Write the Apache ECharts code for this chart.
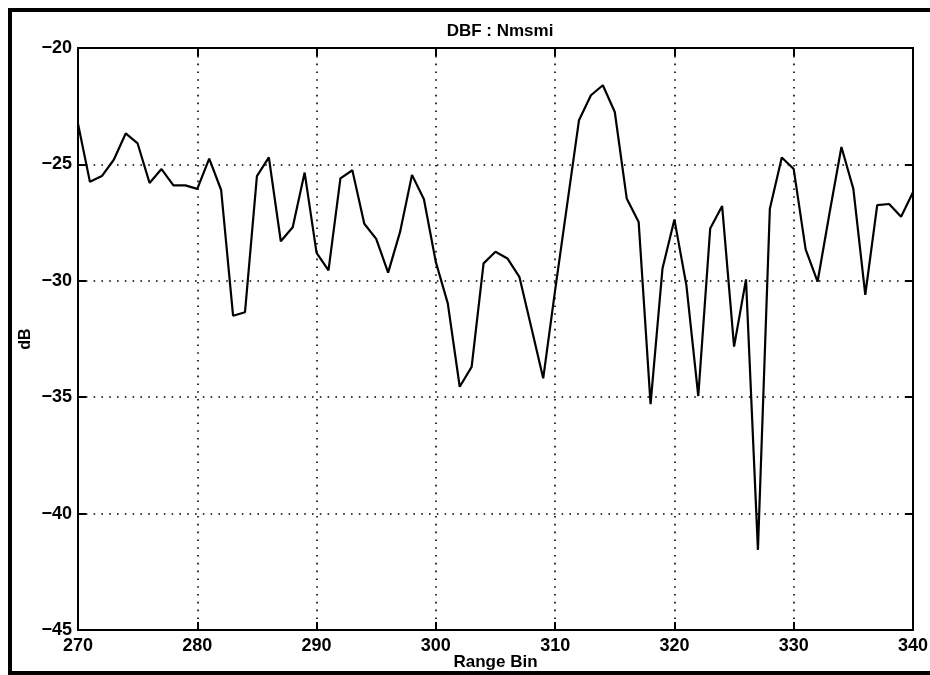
<!DOCTYPE html>
<html>
<head>
<meta charset="utf-8">
<script src="https://cdn.jsdelivr.net/npm/echarts@6/dist/echarts.min.js"></script>
<style>
  html, body { margin: 0; padding: 0; background: #fff; }
  #chart { width: 930px; height: 675px; }
</style>
</head>
<body>
<div id="chart"></div>
<script>
// Range bins 270..340, one dB value per bin
const binStart = 270;
const dbValues = [
  -23.25, -25.75, -25.5, -24.8, -23.67, -24.1, -25.8, -25.2, -25.9, -25.9,
  -26.05, -24.75, -26.1, -31.5, -31.35, -25.5, -24.7, -28.3, -27.7, -25.35,
  -28.8, -29.55, -25.6, -25.25, -27.55, -28.2, -29.65, -27.9, -25.45, -26.5,
  -29.2, -30.97, -34.55, -33.7, -29.25, -28.75, -29.04, -29.83, -32.0, -34.19,
  -30.4, -26.75, -23.1, -22.03, -21.6, -22.75, -26.46, -27.47, -35.3, -29.47,
  -27.37, -30.18, -34.95, -27.75, -26.79, -32.83, -29.94, -41.56, -26.9, -24.7,
  -25.2, -28.65, -30.04, -27.1, -24.25, -26.05, -30.6, -26.75, -26.7, -27.25,
  -26.2
];
const xTicks = [270, 280, 290, 300, 310, 320, 330, 340];
const yTicks = [-45, -40, -35, -30, -25, -20];

const points = dbValues.map((v, i) => [binStart + i, v]);

const FONT = '"Liberation Sans", Arial, Helvetica, sans-serif';
const minus = v => String(v).replace('-', '\u2212');

const xMin = xTicks[0], xMax = xTicks[xTicks.length - 1];
const yMin = yTicks[0], yMax = yTicks[yTicks.length - 1];
const xStep = xTicks[1] - xTicks[0], yStep = yTicks[1] - yTicks[0];

const dotted = { color: '#000', width: 1.6, type: [1.6, 6.2] };
const tickIn = { show: true, inside: true, length: 8, lineStyle: { color: '#000', width: 2 } };

const chart = echarts.init(document.getElementById('chart'));
chart.setOption({
  animation: false,
  backgroundColor: '#fff',
  title: {
    text: 'DBF : Nmsmi',
    left: 495,
    top: 18,
    textAlign: 'center',
    textStyle: { fontFamily: FONT, fontSize: 17, fontWeight: 'bold', color: '#000' }
  },
  grid: {
    left: 78, right: 17, top: 48, bottom: 45,
    outerBoundsMode: 'none',
    show: true, borderColor: '#000', borderWidth: 2
  },
  xAxis: [{
    type: 'value', min: xMin, max: xMax, interval: xStep, position: 'bottom',
    name: 'Range Bin', nameLocation: 'middle', nameGap: 24, nameMoveOverlap: false,
    nameTextStyle: { fontFamily: FONT, fontSize: 17, fontWeight: 'bold', color: '#000' },
    axisLine: { show: true, lineStyle: { color: '#000', width: 2 } },
    axisTick: tickIn,
    axisLabel: { fontFamily: FONT, fontSize: 18, fontWeight: 'bold', color: '#000', margin: 7 },
    splitLine: { show: true, lineStyle: dotted }
  }, {
    type: 'value', min: xMin, max: xMax, interval: xStep, position: 'top',
    axisLine: { show: true, lineStyle: { color: '#000', width: 2 } },
    axisTick: tickIn, axisLabel: { show: false }, splitLine: { show: false }
  }],
  yAxis: [{
    type: 'value', min: yMin, max: yMax, interval: yStep, position: 'left',
    name: 'dB', nameLocation: 'middle', nameRotate: 90, nameGap: 44, nameMoveOverlap: false,
    nameTextStyle: { fontFamily: FONT, fontSize: 16, fontWeight: 'bold', color: '#000' },
    axisLine: { show: true, lineStyle: { color: '#000', width: 2 } },
    axisTick: tickIn,
    axisLabel: { fontFamily: FONT, fontSize: 18, fontWeight: 'bold', color: '#000', margin: 6, formatter: minus },
    splitLine: { show: true, lineStyle: dotted }
  }, {
    type: 'value', min: yMin, max: yMax, interval: yStep, position: 'right',
    axisLine: { show: true, lineStyle: { color: '#000', width: 2 } },
    axisTick: tickIn, axisLabel: { show: false }, splitLine: { show: false }
  }],
  series: [{
    type: 'line',
    data: points,
    symbol: 'none',
    lineStyle: { color: '#000', width: 2.2 },
    z: 5
  }],
  graphic: [
    // page frame: left, top and bottom rules
    { type: 'rect', shape: { x: 8, y: 8, width: 4, height: 667 }, style: { fill: '#000' }, silent: true },
    { type: 'rect', shape: { x: 8, y: 8, width: 922, height: 4 }, style: { fill: '#000' }, silent: true },
    { type: 'rect', shape: { x: 8, y: 671, width: 922, height: 4 }, style: { fill: '#000' }, silent: true }
  ]
});
</script>
</body>
</html>
